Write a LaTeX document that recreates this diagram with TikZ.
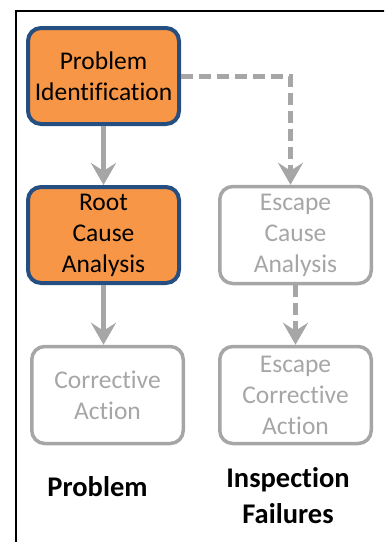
\documentclass[tikz,border=0pt]{standalone}
\usepackage{fontspec}
\setmainfont{Carlito}[Ligatures=NoCommon]
\usetikzlibrary{arrows.meta}

\definecolor{stepfill}{HTML}{F79646}
\definecolor{stepline}{HTML}{254F80}
\definecolor{muted}{HTML}{A6A6A6}

\tikzset{
  boxtext/.style={font=\fontsize{25.5}{31}\selectfont, align=center},
  activebox/.style={boxtext, draw=stepline, fill=stepfill, line width=4pt,
    rounded corners=13pt, minimum width=151pt, minimum height=96pt, inner sep=0pt},
  idlebox/.style={boxtext, draw=muted, text=muted, line width=3.5pt,
    rounded corners=13pt, minimum width=151.5pt, minimum height=97pt, inner sep=0pt},
  flow/.style={draw=muted, line width=5pt,
    -{Stealth[length=22pt, width=25pt, inset=8pt]}},
  flowdash/.style={flow, dash pattern=on 12pt off 6pt},
  caption/.style={font=\fontsize{28.5}{36}\selectfont\bfseries, align=center, inner sep=0pt}
}

\begin{document}
\begin{tikzpicture}[x=1pt, y=-1pt]
  \useasboundingbox (0,0) rectangle (384,542);
  \clip (0,0) rectangle (384,542);

  % outer frame, running past the right and bottom edges
  \draw[line width=1.5pt] (16,11) rectangle (420,580);

  % left column
  \node[activebox] (pi)  at (103.5,76)  {Problem\\Identification};
  \node[activebox] (rca) at (103.5,235) {Root\\Cause\\Analysis};
  \node[idlebox]   (ca)  at (107.5,395) {Corrective\\Action};

  % right column
  \node[idlebox] (eca)  at (295.5,235) {Escape\\Cause\\Analysis};
  \node[idlebox] (ecca) at (295.5,395) {Escape\\Corrective\\Action};

  % connectors
  \draw[flow] (pi.south) -- (pi.south |- rca.north);
  \draw[flow] (rca.south) -- (rca.south |- ca.north);
  \draw[flowdash] (pi.east) -| ([xshift=-5pt]eca.north);
  \draw[flowdash] (eca.south) -- (ecca.north);

  % column captions
  \node[caption] (lp) at (97.5,487) {Problem};
  \node[caption] (li) at (288,495.5) {Inspection\\Failures};
\end{tikzpicture}
\end{document}
